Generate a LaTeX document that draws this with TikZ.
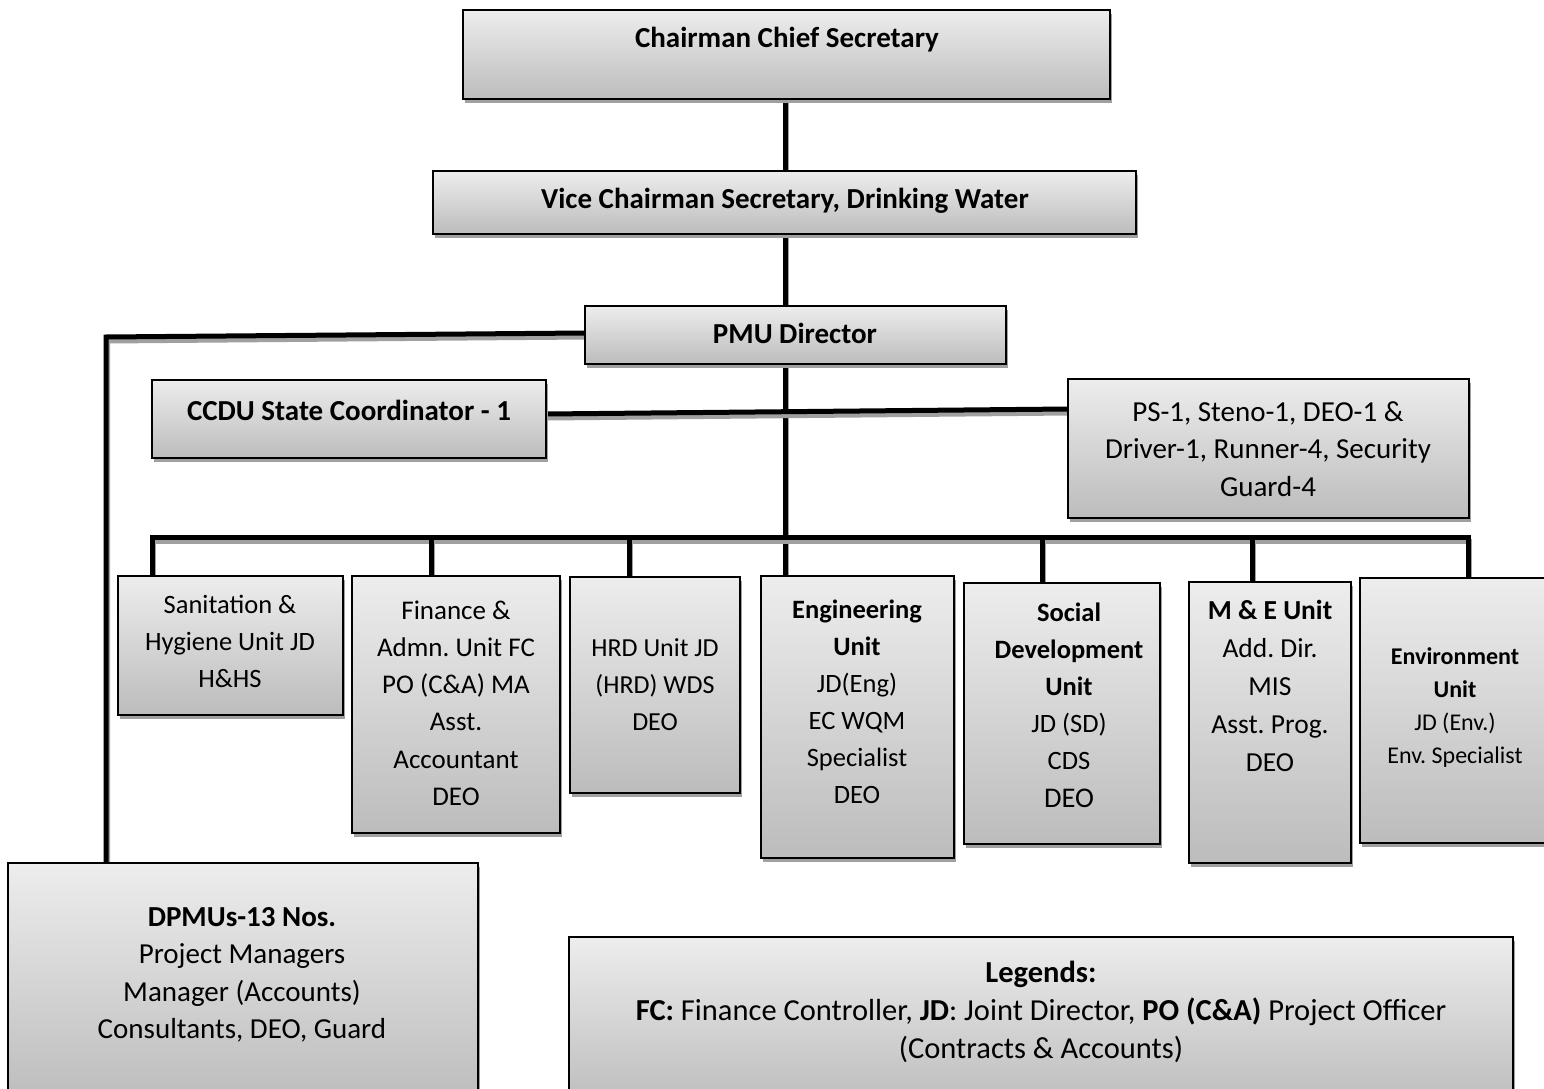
\documentclass[tikz,border=0pt]{standalone}
\usepackage{fontspec}
\setmainfont{Carlito}
\usetikzlibrary{shadows,calc}
\definecolor{gtop}{HTML}{EDEDED}
\definecolor{gbot}{HTML}{BCBCBC}
\definecolor{shd}{HTML}{A0A0A0}
\pgfdeclarelayer{background}
\pgfsetlayers{background,main}
\frenchspacing
\tikzset{
  box/.style={draw=black, line width=1.8pt, top color=gtop, bottom color=gbot,
    inner sep=0pt, outer sep=0pt, anchor=north west,
    drop shadow={shadow xshift=2pt, shadow yshift=-4pt, fill=shd, opacity=1}},
  txt/.style={align=center, inner sep=0pt, text=black, execute at begin node=\frenchspacing},
  fa/.style={font=\fontsize{29}{37.5}\selectfont},
  fb/.style={font=\fontsize{26.5}{37}\selectfont},
  conn/.style={line width=5pt, line join=miter, draw=black,
    preaction={draw=shd, line width=5pt, transform canvas={shift={(1.5pt,-4pt)}}}},
}
\begin{document}
\begin{tikzpicture}[x=1pt,y=-1pt]
\useasboundingbox (0,0) rectangle (1544,1089);

% boxes
\node[box, minimum width=647, minimum height=89] (chair) at (463,10) {};
\node[txt, font=\fontsize{29}{37}\bfseries] (chairT) at (787,40) {Chairman Chief Secretary};

\node[box, minimum width=703, minimum height=63] (vice) at (433,171) {};
\node[txt, font=\fontsize{29}{37}\bfseries] (viceT) at (785,201) {Vice Chairman Secretary, Drinking Water};

\node[box, minimum width=421, minimum height=58] (pmu) at (585,306) {};
\node[txt, font=\fontsize{29}{37}\bfseries] (pmuT) at (795,333) {PMU Director};

\node[box, minimum width=394, minimum height=78] (ccdu) at (152,380) {};
\node[txt, font=\fontsize{29}{37}\bfseries] (ccduT) at (349,410) {CCDU State Coordinator - 1};

\node[box, minimum width=401, minimum height=139] (ps) at (1068,379) {};
\node[txt, fa] (psT) at (1268,449) {PS-1, Steno-1, DEO-1 \&\\Driver-1, Runner-4, Security\\Guard-4};

\node[box, minimum width=225, minimum height=139] (san) at (118,576) {};
\node[txt, fb] (sanT) at (230,641) {Sanitation \&\\Hygiene Unit JD\\H\&HS};

\node[box, minimum width=208, minimum height=257] (fin) at (352,576) {};
\node[txt, font=\fontsize{27}{37.2}\selectfont] (finT) at (456,703) {Finance \&\\Admn. Unit FC\\PO (C\&A) MA\\Asst.\\Accountant\\DEO};

\node[box, minimum width=170, minimum height=216] (hrd) at (570,577) {};
\node[txt, font=\fontsize{26}{37}\selectfont] (hrdT) at (655,685) {HRD Unit JD\\(HRD) WDS\\DEO};

\node[box, minimum width=193, minimum height=282] (eng) at (761,576) {};
\node[txt, fb] (engT) at (857,702) {\textbf{Engineering}\\\textbf{Unit}\\JD(Eng)\\EC WQM\\Specialist\\DEO};

\node[box, minimum width=196, minimum height=261] (soc) at (964,583) {};
\node[txt, fb] (socT) at (1069,705) {\textbf{Social}\\\textbf{Development}\\\textbf{Unit}\\JD (SD)\\CDS\\[1pt]{\fontsize{28.5}{37}\selectfont DEO}};

\node[box, minimum width=162, minimum height=281] (me) at (1189,582) {};
\node[txt, font=\fontsize{27.5}{38}\selectfont] (meT) at (1270,686) {\textbf{M \& E Unit}\\Add. Dir.\\MIS\\Asst. Prog.\\DEO};

\node[box, minimum width=190, minimum height=265] (env) at (1360,578) {};
\node[txt, font=\fontsize{24}{33}\selectfont] (envT) at (1455,708) {\textbf{Environment}\\\textbf{Unit}\\JD (Env.)\\Env. Specialist};

\node[box, minimum width=470, minimum height=240] (dpmu) at (8,863) {};
\node[txt, font=\fontsize{29}{37.5}\selectfont] (dpmuT) at (242,975) {\textbf{DPMUs-13 Nos.}\\Project Managers\\Manager (Accounts)\\Consultants, DEO, Guard};

\node[box, minimum width=944, minimum height=170] (leg) at (569,937) {};
\node[txt, font=\fontsize{30.5}{38}\selectfont] (legT) at (1041,1012) {\textbf{Legends:}\\\textbf{FC:} Finance Controller, \textbf{JD}: Joint Director, \textbf{PO (C\&A)} Project Officer\\(Contracts \& Accounts)};

% connector coordinates
\coordinate (spine) at (785,0);
\coordinate (busy) at (0,537);
\coordinate (dsan) at (152,576);
\coordinate (dfin) at (431,576);
\coordinate (dhrd) at (629,577);
\coordinate (deng) at (785,576);
\coordinate (dsoc) at (1042,583);
\coordinate (dme) at (1252,582);
\coordinate (denv) at (1468,578);
\coordinate (dcorner) at (106,337);

\begin{pgfonlayer}{background}
\draw[conn] (spine |- chair.south) -- (spine |- vice.north);
\draw[conn] (spine |- vice.south) -- (spine |- pmu.north);
\draw[conn] (spine |- pmu.south) -- (deng);
\draw[conn] ([yshift=5pt]ccdu.east) -- ([yshift=39.5pt]ps.west);
\draw[conn] ([yshift=2pt]pmu.west) -- (dcorner) -- (dcorner |- dpmu.north);
\draw[conn] (dsan) -- (dsan |- busy) -- (denv |- busy) -- (denv);
\draw[conn] (dfin |- busy) -- (dfin);
\draw[conn] (dhrd |- busy) -- (dhrd);
\draw[conn] (dsoc |- busy) -- (dsoc);
\draw[conn] (dme |- busy) -- (dme);
\end{pgfonlayer}
\end{tikzpicture}
\end{document}
